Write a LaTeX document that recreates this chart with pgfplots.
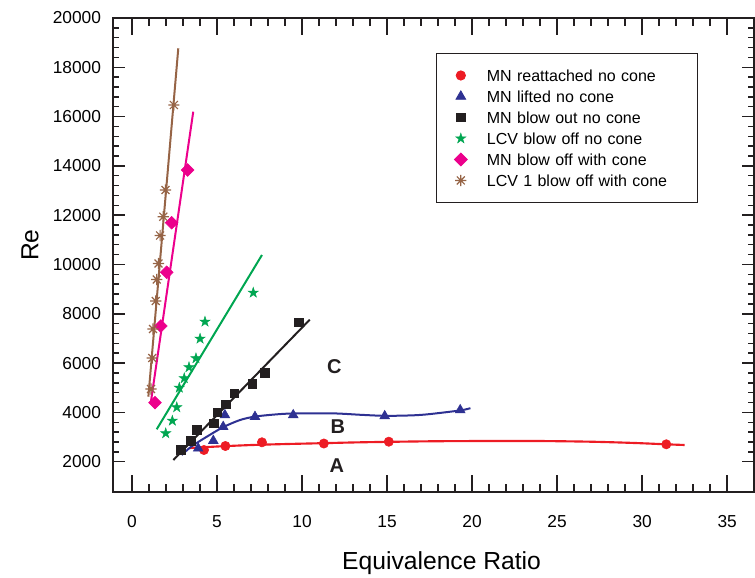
\documentclass[border=0pt]{standalone}
\usepackage{fontspec}
\setmainfont{Liberation Sans}
\usepackage{pgfplots}
\pgfplotsset{compat=1.18}
\usetikzlibrary{plotmarks}

\definecolor{cred}{RGB}{237,28,36}
\definecolor{cblue}{RGB}{46,49,146}
\definecolor{cblack}{RGB}{35,31,32}
\definecolor{cgreen}{RGB}{0,166,81}
\definecolor{cmag}{RGB}{236,0,140}
\definecolor{cbrown}{RGB}{150,100,70}

\pgfdeclareplotmark{ast8}{%
  \pgfpathmoveto{\pgfqpoint{0pt}{\pgfplotmarksize}}\pgfpathlineto{\pgfqpoint{0pt}{-\pgfplotmarksize}}%
  \pgfpathmoveto{\pgfqpoint{\pgfplotmarksize}{0pt}}\pgfpathlineto{\pgfqpoint{-\pgfplotmarksize}{0pt}}%
  \pgfpathmoveto{\pgfqpoint{0.7071\pgfplotmarksize}{0.7071\pgfplotmarksize}}\pgfpathlineto{\pgfqpoint{-0.7071\pgfplotmarksize}{-0.7071\pgfplotmarksize}}%
  \pgfpathmoveto{\pgfqpoint{-0.7071\pgfplotmarksize}{0.7071\pgfplotmarksize}}\pgfpathlineto{\pgfqpoint{0.7071\pgfplotmarksize}{-0.7071\pgfplotmarksize}}%
  \pgfusepathqstroke}
\pgfdeclareplotmark{fstar}{%
  \pgfpathmoveto{\pgfqpoint{0pt}{\pgfplotmarksize}}%
  \pgfpathlineto{\pgfqpoint{-0.2245\pgfplotmarksize}{0.3090\pgfplotmarksize}}%
  \pgfpathlineto{\pgfqpoint{-0.9511\pgfplotmarksize}{0.3090\pgfplotmarksize}}%
  \pgfpathlineto{\pgfqpoint{-0.3633\pgfplotmarksize}{-0.1180\pgfplotmarksize}}%
  \pgfpathlineto{\pgfqpoint{-0.5878\pgfplotmarksize}{-0.8090\pgfplotmarksize}}%
  \pgfpathlineto{\pgfqpoint{0pt}{-0.382\pgfplotmarksize}}%
  \pgfpathlineto{\pgfqpoint{0.5878\pgfplotmarksize}{-0.8090\pgfplotmarksize}}%
  \pgfpathlineto{\pgfqpoint{0.3633\pgfplotmarksize}{-0.1180\pgfplotmarksize}}%
  \pgfpathlineto{\pgfqpoint{0.9511\pgfplotmarksize}{0.3090\pgfplotmarksize}}%
  \pgfpathlineto{\pgfqpoint{0.2245\pgfplotmarksize}{0.3090\pgfplotmarksize}}%
  \pgfpathclose
  \pgfusepathqfillstroke}

\begin{document}
\begin{tikzpicture}
\useasboundingbox (-84.75pt,-63.75pt) rectangle (481.5pt,369pt);
\begin{axis}[
  at={(0pt,0pt)}, anchor=south west,
  scale only axis, width=480.375pt, height=355.5pt,
  xmin=-1.12, xmax=36.55, ymin=770, ymax=20000,
  xtick={0,5,...,35}, minor x tick num=4,
  ytick=\empty,
  major tick length=12.75pt, minor tick length=6pt,
  axis line style={line width=1.5pt, color=cblack},
  tick style={line width=1.1pt, color=cblack},
  /pgf/number format/assume math mode=true,
  xticklabel style={font=\fontsize{13}{15}\selectfont, anchor=center, yshift=-22.5pt},
  xlabel={Equivalence Ratio},
  every axis x label/.style={at={(axis description cs:0.513,0)}, anchor=center, yshift=-53.25pt, font=\fontsize{18.5}{22}\selectfont},
  legend cell align=left,
  legend style={at={(0.5043,0.926)}, anchor=north west, draw=cblack, line width=0.6pt, fill=white,
    font=\fontsize{12}{14}\selectfont, inner xsep=13.5pt, inner ysep=10pt, row sep=2.75pt,
    nodes={inner sep=2pt, text height=9pt, text depth=0pt},
    /tikz/every odd column/.append style={column sep=12.75pt},
    /tikz/every even column/.append style={text width=142pt}},
]
% fitted curves
\addplot[forget plot, cred, line width=1.6pt, smooth] coordinates {
 (3.41,2555) (5,2615) (7,2675) (9,2715) (11.2,2750) (13,2780) (15.1,2805) (18,2830)
 (21.6,2840) (24,2838) (27,2810) (29.5,2760) (31.4,2705) (32.5,2677)};
\addplot[forget plot, cblue, line width=1.5pt, smooth] coordinates {
 (2.92,2270) (3.5,2620) (4.39,3010) (5.36,3400) (6.35,3690) (7.23,3830) (8.5,3920)
 (9.5,3955) (11.8,3960) (13.5,3900) (14.9,3860) (16.5,3880) (17.5,3930) (19.3,4080) (19.9,4170)};
\addplot[forget plot, cblack, line width=1.5pt] coordinates {(2.43,2068) (10.45,7760)};
\addplot[forget plot, cgreen, line width=1.5pt] coordinates {(1.45,3314) (7.64,10385)};
\addplot[forget plot, cmag, line width=1.5pt] coordinates {(1.09,4340) (3.60,16199)};
\addplot[forget plot, cbrown, line width=1.5pt] coordinates {(0.96,4636) (2.72,18771)};
% data
\addplot[only marks, mark=*, mark size=3.5pt, color=cred, fill=cred] coordinates {
 (4.23,2474) (5.49,2636) (7.64,2786) (11.28,2737) (15.10,2811) (31.42,2705)};
\addlegendentry{MN reattached no cone}
\addplot[only marks, mark=triangle*, mark size=4.2pt, color=cblue, fill=cblue] coordinates {
 (3.89,2540) (4.78,2851) (5.36,3419) (5.46,3894) (7.23,3825) (9.48,3894) (14.86,3853) (19.30,4097)};
\addlegendentry{MN lifted no cone}
\addplot[only marks, mark=square*, mark size=3.3pt, color=cblack, fill=cblack] coordinates {
 (2.86,2474) (3.45,2839) (3.80,3285) (4.82,3557) (5.01,4003) (5.51,4328) (6.01,4774)
 (7.07,5151) (7.81,5610) (9.81,7655)};
\addlegendentry{MN blow out no cone}
\addplot[only marks, mark=fstar, mark size=4.1pt, color=cgreen, fill=cgreen, line width=0.3pt] coordinates {
 (1.98,3151) (2.37,3662) (2.63,4206) (2.78,5001) (3.07,5383) (3.35,5829) (3.76,6194)
 (4.00,6989) (4.29,7679) (7.13,8855)};
\addlegendentry{LCV blow off no cone}
\addplot[only marks, mark=square*, mark options={rotate=45}, mark size=3.4pt, color=cmag, fill=cmag] coordinates {
 (1.35,4393) (1.69,7504) (2.04,9683) (2.33,11695) (3.27,13833)};
\addlegendentry{MN blow off with cone}
\addplot[only marks, mark=ast8, mark size=4.2pt, color=cbrown, line width=0.9pt] coordinates {
 (1.12,4949) (1.19,6206) (1.23,7383) (1.39,8519) (1.45,9391) (1.56,10040) (1.65,11176)
 (1.84,11939) (1.97,13022) (2.46,16470)};
\addlegendentry{LCV 1 blow off with cone}
\node[font=\bfseries\fontsize{15}{17}\selectfont, text=cblack] at (axis cs:12.04,1824) {A};
\node[font=\bfseries\fontsize{15}{17}\selectfont, text=cblack] at (axis cs:12.1,3407) {B};
\node[font=\bfseries\fontsize{15}{17}\selectfont, text=cblack] at (axis cs:11.9,5841) {C};
\end{axis}
\begin{axis}[
  at={(0pt,0pt)}, anchor=south west,
  scale only axis, width=480.375pt, height=355.5pt,
  xmin=-1.12, xmax=36.55, ymin=770, ymax=20000,
  xtick=\empty,
  ytick={2000,4000,...,20000}, minor y tick num=4,
  scaled y ticks=false,
  major tick length=9pt, minor tick length=4.5pt,
  axis line style={line width=1.5pt, color=cblack},
  tick style={line width=1.1pt, color=cblack},
  /pgf/number format/assume math mode=true,
  yticklabel style={font=\fontsize{13}{15}\selectfont, /pgf/number format/1000 sep={}, xshift=-5.45pt},
  ylabel={Re},
  every axis y label/.style={at={(axis description cs:0,0.521)}, xshift=-62.25pt, rotate=90, anchor=center, font=\fontsize{18.5}{22}\selectfont},
]
\end{axis}
\end{tikzpicture}
\end{document}
